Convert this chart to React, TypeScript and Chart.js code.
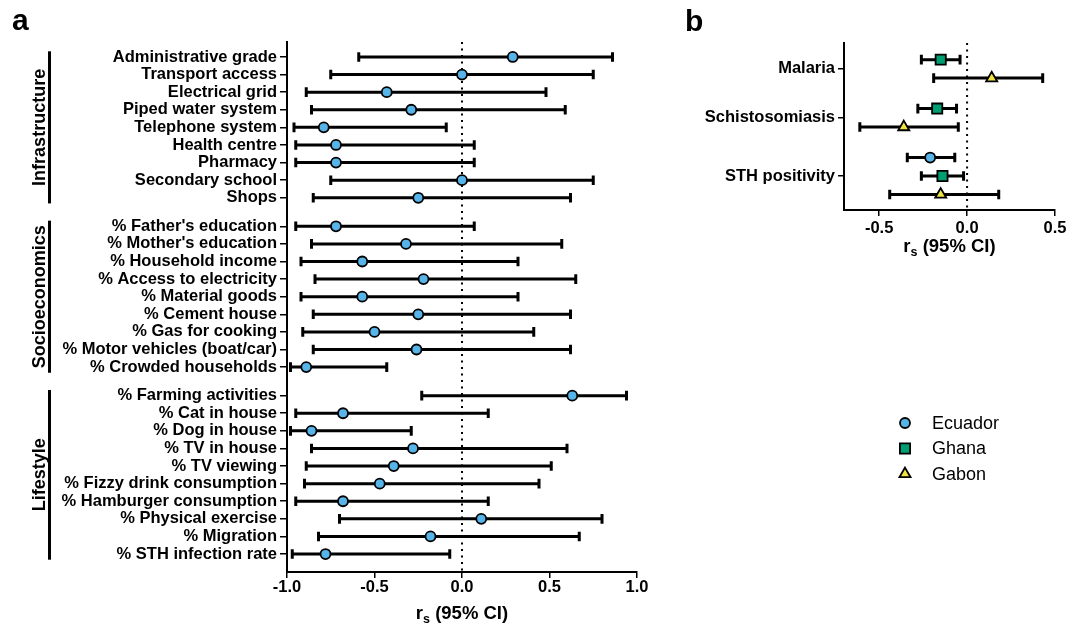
import React, { useEffect, useRef } from 'react';
import { Chart, registerables } from 'chart.js';

Chart.register(...registerables);

const FONT = '"Liberation Sans", Arial, Helvetica, sans-serif';

// ---------------- Panel a data ----------------
const groupsA = ['Infrastructure', 'Socioeconomics', 'Lifestyle'];
const groupSizesA = [9, 9, 10];
const factorsA = [
  'Administrative grade', 'Transport access', 'Electrical grid', 'Piped water system', 'Telephone system',
  'Health centre', 'Pharmacy', 'Secondary school', 'Shops',
  "% Father's education", "% Mother's education", '% Household income', '% Access to electricity',
  '% Material goods', '% Cement house', '% Gas for cooking', '% Motor vehicles (boat/car)', '% Crowded households',
  '% Farming activities', '% Cat in house', '% Dog in house', '% TV in house', '% TV viewing',
  '% Fizzy drink consumption', '% Hamburger consumption', '% Physical exercise', '% Migration', '% STH infection rate',
];
const rsA = [
  0.29, 0.0, -0.43, -0.29, -0.79, -0.72, -0.72, 0.0, -0.25,
  -0.72, -0.32, -0.57, -0.22, -0.57, -0.25, -0.50, -0.26, -0.89,
  0.63, -0.68, -0.86, -0.28, -0.39, -0.47, -0.68, 0.11, -0.18, -0.78,
];
const lowA = [
  -0.59, -0.75, -0.89, -0.86, -0.96, -0.95, -0.95, -0.75, -0.85,
  -0.95, -0.86, -0.92, -0.84, -0.92, -0.85, -0.91, -0.85, -0.98,
  -0.23, -0.95, -0.98, -0.86, -0.89, -0.90, -0.95, -0.70, -0.82, -0.97,
];
const highA = [
  0.86, 0.75, 0.48, 0.59, -0.09, 0.07, 0.07, 0.75, 0.62,
  0.07, 0.57, 0.32, 0.65, 0.32, 0.62, 0.41, 0.62, -0.43,
  0.94, 0.15, -0.29, 0.60, 0.51, 0.44, 0.15, 0.80, 0.67, -0.07,
];
const xTicksA = [-1, -0.5, 0, 0.5, 1];

// ---------------- Panel b data ----------------
const diseasesB = ['Malaria', 'Schistosomiasis', 'STH positivity'];
const countriesB = ['Ecuador', 'Ghana', 'Gabon'];
const ecuadorRs = [null, null, -0.21];
const ecuadorLow = [null, null, -0.34];
const ecuadorHigh = [null, null, -0.07];
const ghanaRs = [-0.15, -0.17, -0.14];
const ghanaLow = [-0.26, -0.28, -0.26];
const ghanaHigh = [-0.04, -0.06, -0.02];
const gabonRs = [0.14, -0.36, -0.15];
const gabonLow = [-0.19, -0.61, -0.44];
const gabonHigh = [0.43, -0.05, 0.18];
const xTicksB = [-0.5, 0, 0.5];

// ---------------- styles ----------------
const COLORS = ['#56B4E9', '#009E73', '#F0E442'];
const STYLES = ['circle', 'rect', 'triangle'];
const RADII = [5, 7.2, 6.4];
const MARKER_BORDER = 1.8;

// ---------------- row positions ----------------
const GAP_A = 0.62;
const posA: number[] = [];
const groupRangeA: [number, number][] = [];
{
  let k = 0;
  groupSizesA.forEach((n, g) => {
    const start = posA.length;
    for (let i = 0; i < n; i++) {
      posA.push(k + g * GAP_A);
      k++;
    }
    groupRangeA.push([posA[start], posA[posA.length - 1]]);
  });
}

const seriesB = [
  { rs: ecuadorRs, lo: ecuadorLow, hi: ecuadorHigh },
  { rs: ghanaRs, lo: ghanaLow, hi: ghanaHigh },
  { rs: gabonRs, lo: gabonLow, hi: gabonHigh },
];
const GAP_B = 0.65;
const posB: (number | null)[][] = seriesB.map(() => []);
const tickPosB: number[] = [];
{
  let r = 0;
  diseasesB.forEach((_, d) => {
    const ps: number[] = [];
    seriesB.forEach((s, si) => {
      if (s.rs[d] != null) {
        const p = r + d * GAP_B;
        posB[si][d] = p;
        ps.push(p);
        r++;
      } else {
        posB[si][d] = null;
      }
    });
    tickPosB.push(ps.reduce((a, b) => a + b, 0) / ps.length);
  });
}

type Bar = { y: number; lo: number; hi: number };

function drawRsTitle(ctx: CanvasRenderingContext2D, cx: number, baseline: number) {
  const big = `bold 18.5px ${FONT}`;
  const small = `bold 12.5px ${FONT}`;
  ctx.save();
  ctx.fillStyle = '#000';
  ctx.textBaseline = 'alphabetic';
  ctx.textAlign = 'left';
  ctx.font = big;
  const w1 = ctx.measureText('r').width;
  const w3 = ctx.measureText(' (95% CI)').width;
  ctx.font = small;
  const w2 = ctx.measureText('s').width;
  let x = cx - (w1 + w2 + w3) / 2;
  ctx.font = big;
  ctx.fillText('r', x, baseline);
  x += w1;
  ctx.font = small;
  ctx.fillText('s', x, baseline + 4);
  x += w2;
  ctx.font = big;
  ctx.fillText(' (95% CI)', x, baseline);
  ctx.restore();
}

function drawMarker(ctx: CanvasRenderingContext2D, style: string, x: number, y: number, r: number, fill: string) {
  ctx.save();
  ctx.beginPath();
  if (style === 'circle') {
    ctx.arc(x, y, r, 0, Math.PI * 2);
  } else if (style === 'rect') {
    const s = Math.SQRT1_2 * r;
    ctx.rect(x - s, y - s, 2 * s, 2 * s);
  } else {
    let rad = 0;
    ctx.moveTo(x + Math.sin(rad) * r, y - Math.cos(rad) * r);
    rad += (2 * Math.PI) / 3;
    ctx.lineTo(x + Math.sin(rad) * r, y - Math.cos(rad) * r);
    rad += (2 * Math.PI) / 3;
    ctx.lineTo(x + Math.sin(rad) * r, y - Math.cos(rad) * r);
    ctx.closePath();
  }
  ctx.fillStyle = fill;
  ctx.fill();
  ctx.lineWidth = MARKER_BORDER;
  ctx.strokeStyle = '#000';
  ctx.stroke();
  ctx.restore();
}

function makeErrorPlugin(bars: Bar[]) {
  return {
    id: 'errbars',
    beforeDatasetsDraw(chart: any) {
      const { ctx, chartArea, scales } = chart;
      const xs = scales.x;
      const ys = scales.y;
      ctx.save();
      // dotted zero line
      const x0 = xs.getPixelForValue(0);
      ctx.beginPath();
      ctx.setLineDash([2, 4.5]);
      ctx.lineWidth = 2;
      ctx.strokeStyle = '#000';
      ctx.moveTo(x0, chartArea.top);
      ctx.lineTo(x0, chartArea.bottom);
      ctx.stroke();
      ctx.setLineDash([]);
      // error bars
      ctx.lineWidth = 3;
      ctx.lineCap = 'butt';
      bars.forEach((b) => {
        const y = ys.getPixelForValue(b.y);
        const xl = xs.getPixelForValue(b.lo);
        const xh = xs.getPixelForValue(b.hi);
        ctx.beginPath();
        ctx.moveTo(xl, y);
        ctx.lineTo(xh, y);
        ctx.moveTo(xl, y - 4.8);
        ctx.lineTo(xl, y + 4.8);
        ctx.moveTo(xh, y - 4.8);
        ctx.lineTo(xh, y + 4.8);
        ctx.stroke();
      });
      ctx.restore();
    },
  };
}

function axisX(min: number, max: number, ticks: number[], padding: number) {
  return {
    type: 'linear',
    min,
    max,
    afterBuildTicks: (s: any) => {
      s.ticks = ticks.map((v) => ({ value: v }));
    },
    afterFit: (s: any) => {
      s.height = 55;
    },
    ticks: {
      callback: (v: any) => Number(v).toFixed(1),
      color: '#000',
      font: { family: FONT, size: 16.5, weight: 'bold' },
      padding,
      autoSkip: false,
      maxRotation: 0,
    },
    grid: { drawOnChartArea: false, drawTicks: true, tickLength: 6, color: '#000', lineWidth: 1.5 },
    border: { display: true, color: '#000', width: 2 },
  };
}

function axisY(min: number, max: number, ticks: number[], labels: string[], width: number, tickLength: number) {
  return {
    type: 'linear',
    reverse: true,
    min,
    max,
    afterBuildTicks: (s: any) => {
      s.ticks = ticks.map((v) => ({ value: v }));
    },
    afterFit: (s: any) => {
      s.width = width;
    },
    ticks: {
      callback: (_v: any, i: number) => labels[i],
      color: '#000',
      font: { family: FONT, size: 16.5, weight: 'bold' },
      padding: 3,
      autoSkip: false,
    },
    grid: { drawOnChartArea: false, drawTicks: true, tickLength, color: '#000', lineWidth: 1.5 },
    border: { display: true, color: '#000', width: 2 },
  };
}

export default function App() {
  const refA = useRef<HTMLCanvasElement | null>(null);
  const refB = useRef<HTMLCanvasElement | null>(null);

  useEffect(() => {
    const barsA: Bar[] = rsA.map((_, i) => ({ y: posA[i], lo: lowA[i], hi: highA[i] }));
    const decoA = {
      id: 'decoA',
      afterDraw(chart: any) {
        const { ctx, chartArea, scales } = chart;
        const ys = scales.y;
        ctx.save();
        ctx.fillStyle = '#000';
        groupsA.forEach((name, g) => {
          const [a, b] = groupRangeA[g];
          const y1 = ys.getPixelForValue(a - 0.32);
          const y2 = ys.getPixelForValue(b + 0.32);
          ctx.fillRect(48, y1, 3, y2 - y1);
          ctx.save();
          ctx.translate(45, (y1 + y2) / 2);
          ctx.rotate(-Math.PI / 2);
          ctx.font = `bold 18px ${FONT}`;
          ctx.textAlign = 'center';
          ctx.textBaseline = 'alphabetic';
          ctx.fillText(name, 0, 0);
          ctx.restore();
        });
        ctx.font = `bold 30px ${FONT}`;
        ctx.textAlign = 'left';
        ctx.textBaseline = 'alphabetic';
        ctx.fillText('a', 12, 30);
        ctx.restore();
        drawRsTitle(ctx, (chartArea.left + chartArea.right) / 2, 619);
      },
    };
    const chartA = new Chart(refA.current as HTMLCanvasElement, {
      type: 'scatter',
      data: {
        datasets: [
          {
            label: countriesB[0],
            data: rsA.map((v, i) => ({ x: v, y: posA[i] })),
            backgroundColor: COLORS[0],
            borderColor: '#000',
            borderWidth: MARKER_BORDER,
            pointStyle: STYLES[0] as any,
            pointRadius: RADII[0],
            pointHoverRadius: RADII[0],
          },
        ],
      },
      options: {
        responsive: false,
        animation: false,
        events: [],
        layout: { padding: { left: 0, top: 42, right: 43, bottom: 0 } },
        plugins: { legend: { display: false }, tooltip: { enabled: false } },
        scales: {
          x: axisX(-1, 1, xTicksA, 0) as any,
          y: axisY(-0.85, 29.26, posA, factorsA, 287, 7) as any,
        },
      },
      plugins: [makeErrorPlugin(barsA), decoA],
    });

    const barsB: Bar[] = [];
    seriesB.forEach((s, si) => {
      s.rs.forEach((v, d) => {
        if (v != null) barsB.push({ y: posB[si][d] as number, lo: s.lo[d] as number, hi: s.hi[d] as number });
      });
    });
    const decoB = {
      id: 'decoB',
      afterDraw(chart: any) {
        const { ctx, chartArea } = chart;
        ctx.save();
        ctx.fillStyle = '#000';
        ctx.font = `bold 30px ${FONT}`;
        ctx.textAlign = 'left';
        ctx.textBaseline = 'alphabetic';
        ctx.fillText('b', 5, 31);
        ctx.restore();
        drawRsTitle(ctx, (chartArea.left + chartArea.right) / 2, 252);
        // legend
        countriesB.forEach((name, i) => {
          const y = 423 + i * 25.5;
          drawMarker(ctx, STYLES[i], 225, y, RADII[i], COLORS[i]);
          ctx.save();
          ctx.fillStyle = '#000';
          ctx.font = `18px ${FONT}`;
          ctx.textAlign = 'left';
          ctx.textBaseline = 'middle';
          ctx.fillText(name, 252, y + 1);
          ctx.restore();
        });
      },
    };
    const chartB = new Chart(refB.current as HTMLCanvasElement, {
      type: 'scatter',
      data: {
        datasets: seriesB.map((s, si) => ({
          label: countriesB[si],
          data: s.rs
            .map((v, d) => (v == null ? null : { x: v, y: posB[si][d] as number }))
            .filter((p) => p != null) as any,
          backgroundColor: COLORS[si],
          borderColor: '#000',
          borderWidth: MARKER_BORDER,
          pointStyle: STYLES[si] as any,
          pointRadius: RADII[si],
          pointHoverRadius: RADII[si],
        })),
      },
      options: {
        responsive: false,
        animation: false,
        events: [],
        layout: { padding: { left: 0, top: 43, right: 28, bottom: 362 } },
        plugins: { legend: { display: false }, tooltip: { enabled: false } },
        scales: {
          x: axisX(-0.7, 0.5, xTicksB, 3) as any,
          y: axisY(-0.9, 8.14, tickPosB, diseasesB, 164, 6) as any,
        },
      },
      plugins: [makeErrorPlugin(barsB), decoB],
    });

    return () => {
      chartA.destroy();
      chartB.destroy();
    };
  }, []);

  return (
    <div style={{ position: 'absolute', left: 0, top: 0, width: 1083, height: 627, background: '#fff' }}>
      <canvas
        ref={refA}
        width={680}
        height={627}
        style={{ position: 'absolute', left: 0, top: 0, width: 680, height: 627 }}
      />
      <canvas
        ref={refB}
        width={403}
        height={627}
        style={{ position: 'absolute', left: 680, top: 0, width: 403, height: 627 }}
      />
    </div>
  );
}
